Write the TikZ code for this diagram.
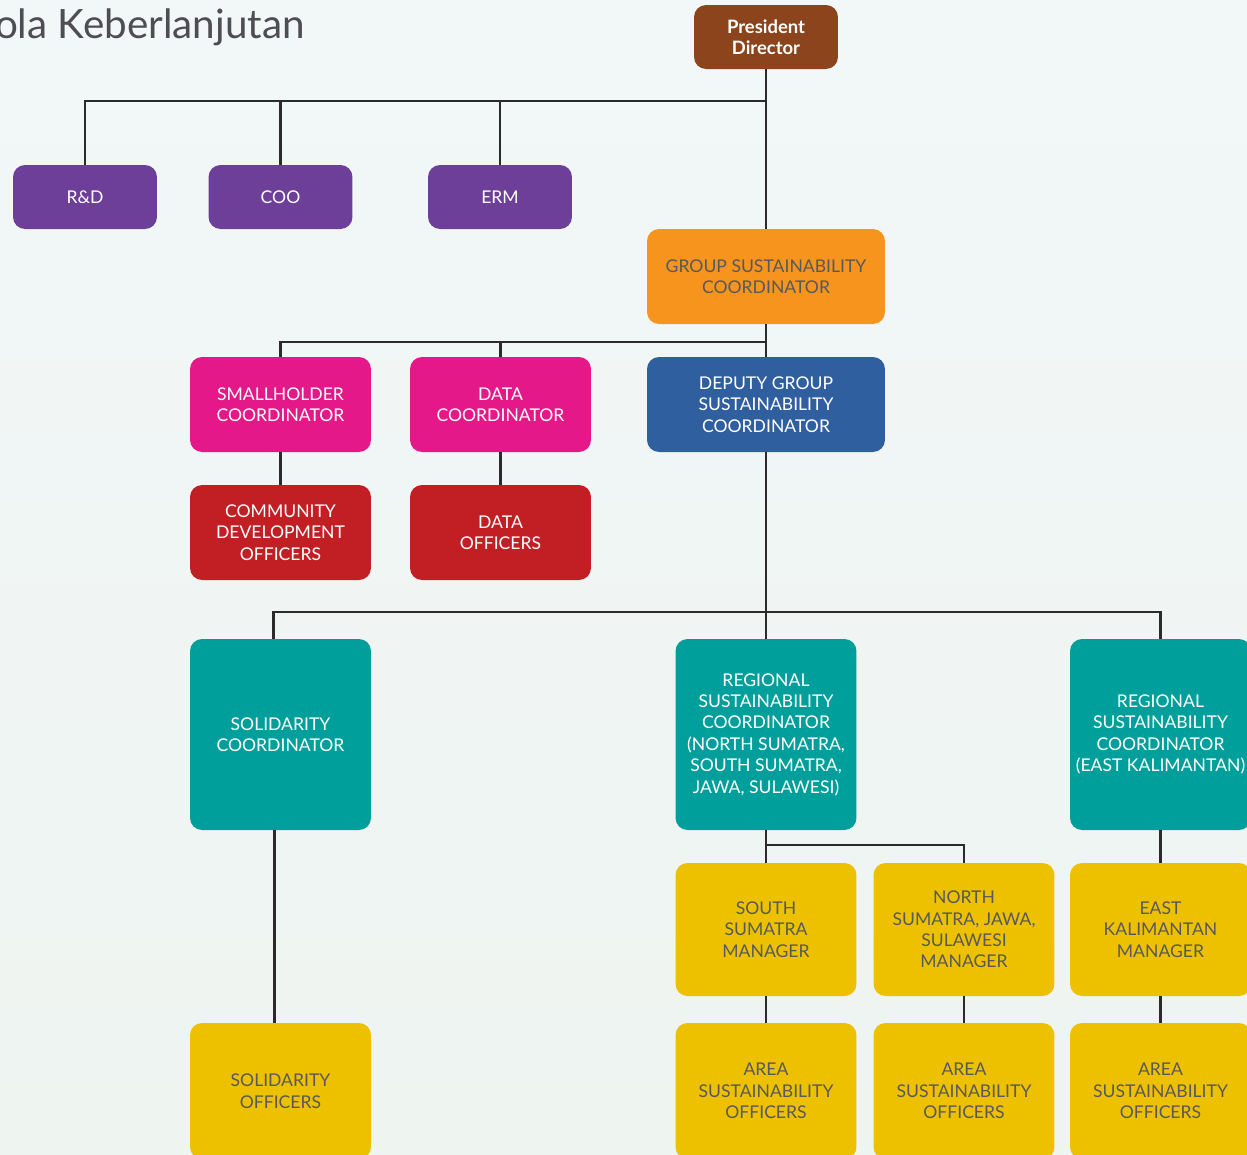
\documentclass[tikz,border=0pt]{standalone}
\usepackage{fontspec}
\setmainfont{Lato}
\usepackage{xcolor}
\usetikzlibrary{positioning,calc}

\definecolor{bgtop}{HTML}{F2F7F8}
\definecolor{bgbot}{HTML}{EEF4F0}
\definecolor{brownbox}{HTML}{8B441B}
\definecolor{purplebox}{HTML}{6E3F99}
\definecolor{orangebox}{HTML}{F7941D}
\definecolor{pinkbox}{HTML}{E5188A}
\definecolor{bluebox}{HTML}{2F5F9F}
\definecolor{redbox}{HTML}{C21F25}
\definecolor{tealbox}{HTML}{009F9B}
\definecolor{yellowbox}{HTML}{EEC100}
\definecolor{darktext}{HTML}{58595B}
\definecolor{titletext}{HTML}{4D4D52}
\definecolor{linecol}{HTML}{2B2B2B}

\tikzset{
  box/.style={rectangle, rounded corners=0.24cm, align=center, inner sep=1pt,
    font=\fontsize{10}{12.2}\selectfont},
  small/.style={box, minimum width=2.88cm, minimum height=1.28cm},
  wide/.style={box, minimum width=4.76cm, minimum height=1.9cm},
  mid/.style={box, minimum width=3.62cm, minimum height=1.9cm},
  tall/.style={box, minimum width=3.62cm, minimum height=3.82cm},
  mgr/.style={box, minimum width=3.62cm, minimum height=2.66cm},
  off/.style={box, minimum width=3.62cm, minimum height=2.72cm},
  link/.style={draw=linecol, line width=1.4pt},
}

\begin{document}
\begin{tikzpicture}[x=0.02cm, y=-0.02cm]
    % background and size
    \useasboundingbox (0,0) rectangle (1247,1154);
    \shade[top color=bgtop, bottom color=bgbot] (0,0) rectangle (1247,1154);

    % title
    \node[anchor=base east, text=titletext, font=\fontsize{23}{26}\selectfont, inner sep=0pt]
      (title) at (305,38) {Tata Kelola Keberlanjutan};

    % top
    \node[small, fill=brownbox, text=white, font=\fontsize{10.5}{12.2}\selectfont\bfseries]
      (pd) at (766,37) {President\\Director};
    \node[small, fill=purplebox, text=white] (rd) at (85,197) {R\&D};
    \node[small, fill=purplebox, text=white] (coo) at (280.5,197) {COO};
    \node[small, fill=purplebox, text=white] (erm) at (500,197) {ERM};

    % group level
    \node[wide, fill=orangebox, text=darktext] (gsc) at (766,276.5)
      {GROUP SUSTAINABILITY\\COORDINATOR};
    \node[mid, fill=pinkbox, text=white] (shc) at (280.5,404.5) {SMALLHOLDER\\COORDINATOR};
    \node[mid, fill=pinkbox, text=white] (dc) at (500.5,404.5) {DATA\\COORDINATOR};
    \node[wide, fill=bluebox, text=white] (dgsc) at (766,404.5)
      {DEPUTY GROUP\\SUSTAINABILITY\\COORDINATOR};
    \node[mid, fill=redbox, text=white] (cdo) at (280.5,532.5)
      {COMMUNITY\\DEVELOPMENT\\OFFICERS};
    \node[mid, fill=redbox, text=white] (do) at (500.5,532.5) {DATA\\OFFICERS};

    % regional level
    \node[tall, fill=tealbox, text=white] (sc) at (280.5,734.5) {SOLIDARITY\\COORDINATOR};
    \node[tall, fill=tealbox, text=white] (rsc) at (766,734.5)
      {REGIONAL\\SUSTAINABILITY\\COORDINATOR\\(NORTH SUMATRA,\\SOUTH SUMATRA,\\JAWA, SULAWESI)};
    \node[tall, fill=tealbox, text=white] (rsce) at (1160.5,734.5)
      {REGIONAL\\SUSTAINABILITY\\COORDINATOR\\(EAST KALIMANTAN)};

    % managers
    \node[mgr, fill=yellowbox, text=darktext] (ssm) at (766,929.5) {SOUTH\\SUMATRA\\MANAGER};
    \node[mgr, fill=yellowbox, text=darktext] (nsm) at (964,929.5)
      {NORTH\\SUMATRA, JAWA,\\SULAWESI\\MANAGER};
    \node[mgr, fill=yellowbox, text=darktext] (ekm) at (1160.5,929.5) {EAST\\KALIMANTAN\\MANAGER};

    % officers
    \node[off, fill=yellowbox, text=darktext] (so) at (280.5,1091) {SOLIDARITY\\OFFICERS};
    \node[off, fill=yellowbox, text=darktext] (aso1) at (766,1091) {AREA\\SUSTAINABILITY\\OFFICERS};
    \node[off, fill=yellowbox, text=darktext] (aso2) at (964,1091) {AREA\\SUSTAINABILITY\\OFFICERS};
    \node[off, fill=yellowbox, text=darktext] (aso3) at (1160.5,1091) {AREA\\SUSTAINABILITY\\OFFICERS};

    % bus points
    \coordinate (busa) at (766,101);
    \coordinate (busb) at (766,342);
    \coordinate (busc) at (766,612);
    \coordinate (busd) at (766,845);

    % connectors
    \draw[link] (pd) -- (gsc);
    \draw[link] (rd) |- (busa);
    \draw[link] (coo) |- (busa);
    \draw[link] (erm) |- (busa);

    \draw[link] (gsc) -- (dgsc);
    \draw[link] (shc) |- (busb);
    \draw[link] (dc) |- (busb);
    \draw[link] (shc) -- (cdo);
    \draw[link] (dc) -- (do);

    \draw[link] (dgsc) -- (rsc);
    \draw[link] ([xshift=-0.14cm]sc.north) |- (busc) -| (rsce.north);
    \draw[link] ([xshift=-0.12cm]sc.south) -- ([xshift=-0.12cm]so.north);

    \draw[link] (rsc) -- (ssm);
    \draw[link] (nsm) |- (busd);
    \draw[link] (ssm) -- (aso1);
    \draw[link] (nsm) -- (aso2);
    \draw[link] (rsce) -- (ekm);
    \draw[link] (ekm) -- (aso3);
\end{tikzpicture}
\end{document}
